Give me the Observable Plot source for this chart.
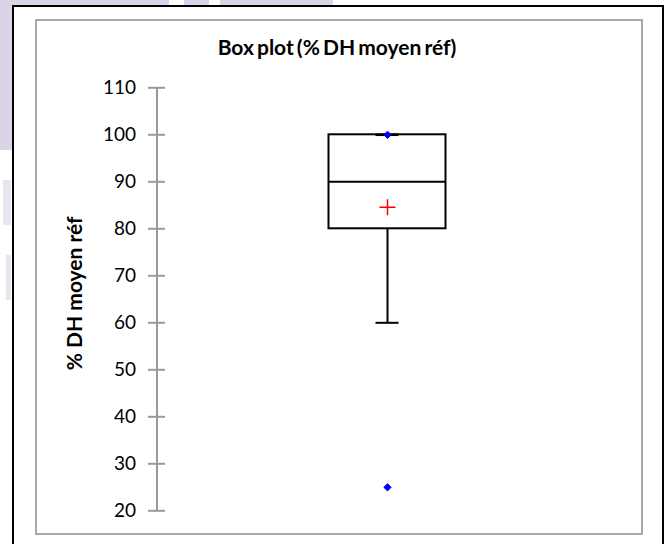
<!DOCTYPE html>
<html>
<head>
<meta charset="utf-8">
<script src="https://cdn.jsdelivr.net/npm/d3@7"></script>
<script src="https://cdn.jsdelivr.net/npm/@observablehq/plot@0.6"></script>
<style>
  html, body { margin: 0; padding: 0; background: #ffffff; }
  #wrap { position: relative; width: 668px; height: 544px; overflow: hidden; background: #ffffff; font-family: Lato, "Open Sans", sans-serif; }
  .deco { position: absolute; background: #ddd3e8; }
  .deco.light { background: #e9e5ee; }
  .line { position: absolute; background: #000000; }
  #inner { position: absolute; left: 34.5px; top: 18.5px; width: 604px; height: 512px; border: 2px solid #a8a8a8; }
  #title { position: absolute; left: 0; width: 674px; top: 36px; text-align: center; font-weight: 700; font-size: 21px; line-height: 22px; word-spacing: -2px; color: #000; }
  #chart { position: absolute; left: 0; top: 0; }
</style>
</head>
<body>
<div id="wrap">
  <div class="deco" style="left:0;top:0;width:169px;height:6px"></div>
  <div class="deco" style="left:184px;top:0;width:25px;height:6px"></div>
  <div class="deco" style="left:220px;top:0;width:113px;height:6px"></div>
  <div class="deco" style="left:0;top:0;width:12px;height:150px"></div>
  <div class="deco light" style="left:3px;top:180px;width:8px;height:45px"></div>
  <div class="deco light" style="left:6px;top:255px;width:5px;height:45px"></div>
  <div class="line" style="left:12px;top:5px;width:652px;height:2px"></div>
  <div class="line" style="left:12px;top:5px;width:2px;height:539px"></div>
  <div class="line" style="left:662px;top:5px;width:2px;height:539px"></div>
  <div id="inner"></div>
  <div id="title">Box plot (% DH moyen réf)</div>
  <div id="chart"></div>
</div>
<script>
// ---- data ----
const series = ["% DH moyen réf"];
const q1Values = [80];
const medianValues = [90];
const q3Values = [100];
const whiskerLow = [60];
const whiskerHigh = [100];
const meanValues = [84.6];
const minValues = [25];
const maxValues = [100];
const yTicks = [20, 30, 40, 50, 60, 70, 80, 90, 100, 110];
const yDomain = [20, 110];
const yLabel = "% DH moyen réf";

// ---- layout constants ----
const xDomain = [-1, 1];
const boxHalf = 0.2538;  // half box width in x units
const capHalf = 0.05;    // half whisker cap width in x units
const axisGray = "#9a9a9a";

const idx = series.map((_, i) => i);

const chart = Plot.plot({
  width: 668,
  height: 544,
  marginTop: 87.3,
  marginBottom: 33.7,
  marginLeft: 156.5,
  marginRight: 50.5,
  style: { fontFamily: "Lato, 'Open Sans', sans-serif", fontSize: "19px", color: "#000", background: "transparent", overflow: "visible" },
  x: { type: "linear", domain: xDomain, axis: null },
  y: { domain: yDomain, axis: null },
  marks: [
    // y axis line
    Plot.ruleX([xDomain[0]], { x: d => d, y1: yDomain[0], y2: yDomain[1], stroke: axisGray, strokeWidth: 2 }),
    // crossing ticks
    Plot.ruleY(yTicks, { y: d => d, x1: xDomain[0], x2: xDomain[0], insetLeft: -8.5, insetRight: -8.5, stroke: axisGray, strokeWidth: 2 }),
    // tick labels
    Plot.axisY(yTicks, { anchor: "left", tickSize: 0, tickPadding: 21, label: null, fontSize: 19, fill: "#000" }),
    // y label
    Plot.text([yLabel], { text: d => d, frameAnchor: "left", textAnchor: "middle", rotate: -90, dx: -82, dy: -6, fontWeight: "bold", fontSize: 21, fill: "#000" }),
    // whiskers
    Plot.ruleX(idx, { x: i => i, y1: i => whiskerLow[i], y2: i => q1Values[i], stroke: "#000", strokeWidth: 2 }),
    Plot.ruleX(idx, { x: i => i, y1: i => q3Values[i], y2: i => whiskerHigh[i], stroke: "#000", strokeWidth: 2 }),
    // caps
    Plot.ruleY(idx, { y: i => whiskerLow[i], x1: i => i - capHalf, x2: i => i + capHalf, stroke: "#000", strokeWidth: 2 }),
    // box
    Plot.rect(idx, { x1: i => i - boxHalf, x2: i => i + boxHalf, y1: i => q1Values[i], y2: i => q3Values[i], fill: "none", stroke: "#000", strokeWidth: 2 }),
    Plot.ruleY(idx, { y: i => whiskerHigh[i], x1: i => i - capHalf, x2: i => i + capHalf, stroke: "#000", strokeWidth: 2.5 }),
    // median
    Plot.ruleY(idx, { y: i => medianValues[i], x1: i => i - boxHalf, x2: i => i + boxHalf, stroke: "#000", strokeWidth: 2 }),
    // mean
    Plot.dot(idx, { x: i => i, y: i => meanValues[i], symbol: "plus", r: 5.25, stroke: "#ff0000", strokeWidth: 1.5 }),
    // min / max
    Plot.dot(idx, { x: i => i, y: i => minValues[i], symbol: "diamond2", r: 3.3, fill: "#0000ff", stroke: "#0000ff", strokeWidth: 1 }),
    Plot.dot(idx, { x: i => i, y: i => maxValues[i], symbol: "diamond2", r: 3.3, fill: "#0000ff", stroke: "#0000ff", strokeWidth: 1 })
  ]
});
document.getElementById("chart").appendChild(chart);
</script>
</body>
</html>
